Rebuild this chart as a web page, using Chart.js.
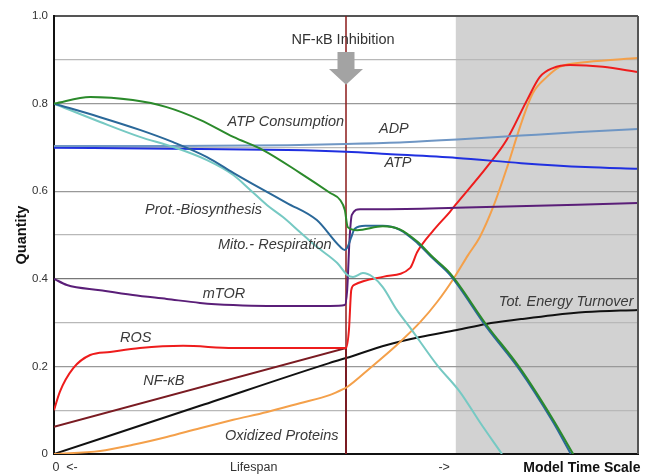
<!DOCTYPE html>
<html>
<head>
<meta charset="utf-8">
<script src="https://cdn.jsdelivr.net/npm/chart.js@4"></script>
<style>
html, body { margin: 0; padding: 0; background: #fff; }
</style>
</head>
<body>
<canvas id="myChart" width="651" height="475"></canvas>
<script>
// time axis runs 0..100 (model time), quantities 0..1
var inhibitionAt = 50;
var agingStart = 68.8;

var consX = [0, 6.2, 13.5, 19.3, 25, 30.7, 35.8, 42.1, 47.3, 49, 49.8, 50.3, 51.9, 56.3, 59.2, 62.2, 64.9, 67.8, 74.1, 79.8, 85.4, 88.9];
var consY = [0.8, 0.815, 0.808, 0.792, 0.763, 0.724, 0.694, 0.642, 0.596, 0.58, 0.557, 0.518, 0.511, 0.52, 0.513, 0.485, 0.449, 0.413, 0.294, 0.196, 0.08, 0];

var mitoX = [0, 7.9, 14.7, 20.4, 26.2, 30.7, 35.3, 39.9, 45, 49, 49.8, 50.3, 50.9, 51.5, 53.3, 56.3, 59.2, 62.2, 64.9, 67.8, 74.1, 79.8, 85.4, 88.5];
var mitoY = [0.8, 0.769, 0.74, 0.712, 0.678, 0.642, 0.607, 0.573, 0.534, 0.473, 0.466, 0.473, 0.495, 0.514, 0.521, 0.521, 0.512, 0.482, 0.446, 0.409, 0.289, 0.191, 0.074, 0];

var protX = [0, 7.9, 14.7, 20.4, 26.2, 30.7, 33.6, 36.5, 39.2, 42.1, 45, 48.5, 50.2, 51.2, 52.9, 54.6, 56.3, 58.7, 61, 65.6, 69.5, 72.9, 76.7];
var protY = [0.8, 0.758, 0.724, 0.701, 0.671, 0.637, 0.603, 0.568, 0.541, 0.507, 0.473, 0.436, 0.409, 0.404, 0.413, 0.404, 0.381, 0.329, 0.288, 0.203, 0.142, 0.073, 0];

var adpX = [0, 20, 40, 50, 60, 69, 80, 90, 100];
var adpY = [0.703, 0.703, 0.705, 0.708, 0.712, 0.718, 0.727, 0.735, 0.742];

var atpX = [0, 20, 40, 50, 57, 69, 80, 91, 100];
var atpY = [0.699, 0.697, 0.694, 0.69, 0.685, 0.676, 0.664, 0.655, 0.651];

var mtorX = [0, 2.2, 7.9, 13.5, 19.3, 25, 30.7, 36.5, 47.3, 49.8, 50.2, 50.6, 51, 52.4, 56.3, 68.8, 100];
var mtorY = [0.4, 0.386, 0.374, 0.363, 0.354, 0.345, 0.34, 0.338, 0.338, 0.34, 0.374, 0.489, 0.546, 0.559, 0.559, 0.562, 0.573];

var rosX = [0, 1, 3.3, 6.2, 9.6, 14.7, 22.1, 30.7, 47.3, 50, 50.5, 50.9, 51.4, 56.5, 61, 62.2, 65, 67.8, 68.7, 74.1, 77.5, 81, 83.2, 85.4, 88.4, 94, 100];
var rosY = [0.1, 0.142, 0.196, 0.226, 0.233, 0.242, 0.247, 0.242, 0.242, 0.242, 0.283, 0.374, 0.386, 0.405, 0.425, 0.461, 0.511, 0.553, 0.568, 0.655, 0.717, 0.808, 0.861, 0.881, 0.888, 0.884, 0.872];

var oxX = [0, 7.9, 13.5, 19.3, 25, 30.7, 36.5, 42.1, 47.3, 49.5, 50.2, 54.1, 58.7, 62.7, 65.6, 68.5, 70.9, 72.9, 75.2, 77.6, 79.8, 82, 84.4, 86.6, 91.3, 100];
var oxY = [0, 0.007, 0.021, 0.039, 0.059, 0.078, 0.096, 0.116, 0.135, 0.148, 0.153, 0.196, 0.249, 0.301, 0.347, 0.402, 0.454, 0.495, 0.564, 0.655, 0.747, 0.824, 0.861, 0.884, 0.895, 0.904];

var nfkbX = [0, 50, 50];
var nfkbY = [0.062, 0.242, 0];

var energyX = [0, 25, 47, 50, 57, 62.7, 69, 74, 80, 85.4, 91, 100];
var energyY = [0, 0.11, 0.207, 0.219, 0.249, 0.267, 0.283, 0.297, 0.308, 0.317, 0.324, 0.329];

var xTickPos = [1.9, 34.2, 66.8, 90.4];
var xTickLabels = ["0  <-", "Lifespan", "->", "Model Time Scale"];

var curveLabels = ["ATP Consumption", "ADP", "ATP", "Prot.-Biosynthesis", "Mito.- Respiration", "mTOR", "ROS", "NF-\u03baB", "Oxidized Proteins", "Tot. Energy Turnover"];
var labelX = [39.7, 58.2, 58.9, 25.6, 37.8, 29.1, 14.0, 18.8, 39.0, 87.7];
var labelY = [0.758, 0.742, 0.664, 0.557, 0.477, 0.365, 0.265, 0.167, 0.041, 0.347];

function pts(xs, ys) {
    return xs.map(function (v, i) { return {x: v, y: ys[i]}; });
}

function line(label, xs, ys, color, smooth) {
    return {
        label: label,
        data: pts(xs, ys),
        borderColor: color,
        borderWidth: 2,
        pointRadius: 0,
        fill: false,
        tension: 0,
        cubicInterpolationMode: smooth === false ? 'default' : 'monotone'
    };
}

Chart.defaults.font.family = "'Liberation Sans', Arial, sans-serif";
Chart.defaults.color = '#333';

var extras = {
    id: 'extras',
    beforeDraw: function (chart) {
        var ctx = chart.ctx, a = chart.chartArea, x = chart.scales.x;
        var x0 = x.getPixelForValue(agingStart);
        ctx.save();
        ctx.fillStyle = '#d2d2d2';
        ctx.fillRect(x0, a.top, a.right - x0, a.bottom - a.top);
        ctx.restore();
    },
    afterDatasetsDraw: function (chart) {
        var ctx = chart.ctx, x = chart.scales.x, y = chart.scales.y;
        ctx.save();
        // arrow
        var cx = x.getPixelForValue(inhibitionAt);
        var t = y.getPixelForValue(0.918), h = y.getPixelForValue(0.879), tip = y.getPixelForValue(0.843);
        ctx.fillStyle = '#a3a3a3';
        ctx.beginPath();
        ctx.moveTo(cx - 8.5, t);
        ctx.lineTo(cx + 8.5, t);
        ctx.lineTo(cx + 8.5, h);
        ctx.lineTo(cx + 17, h);
        ctx.lineTo(cx, tip);
        ctx.lineTo(cx - 17, h);
        ctx.lineTo(cx - 8.5, h);
        ctx.closePath();
        ctx.fill();

        ctx.textAlign = 'center';
        ctx.textBaseline = 'middle';
        ctx.fillStyle = '#333';
        ctx.font = "14.5px 'Liberation Sans', Arial, sans-serif";
        ctx.fillText("NF-\u03baB Inhibition", x.getPixelForValue(49.5), y.getPixelForValue(0.945));

        ctx.font = "italic 14.5px 'Liberation Sans', Arial, sans-serif";
        ctx.fillStyle = '#3a3a3a';
        curveLabels.forEach(function (s, i) {
            ctx.fillText(s, x.getPixelForValue(labelX[i]), y.getPixelForValue(labelY[i]));
        });
        ctx.restore();
    },
    afterDraw: function (chart) {
        var ctx = chart.ctx, a = chart.chartArea;
        ctx.save();
        ctx.strokeStyle = '#555';
        ctx.lineWidth = 2;
        ctx.beginPath();
        ctx.moveTo(a.right, a.top);
        ctx.lineTo(a.right, a.bottom);
        ctx.stroke();
        ctx.restore();
    }
};

new Chart("myChart", {
    type: "line",
    data: {
        datasets: [
            line("ATP Consumption", consX, consY, "#2b8a2b"),
            line("Mito.- Respiration", mitoX, mitoY, "#2a6899"),
            line("Prot.-Biosynthesis", protX, protY, "#76c9c3"),
            line("ADP", adpX, adpY, "#6f96c4"),
            line("ATP", atpX, atpY, "#2030e0"),
            line("mTOR", mtorX, mtorY, "#5a1e78"),
            line("ROS", rosX, rosY, "#ee1c1c"),
            line("Oxidized Proteins", oxX, oxY, "#f4a04a"),
            line("NF-\u03baB", nfkbX, nfkbY, "#7a1b22", false),
            line("Tot. Energy Turnover", energyX, energyY, "#111111"),
            {
                label: "inhibition",
                data: [{x: inhibitionAt, y: 0}, {x: inhibitionAt, y: 1}],
                borderColor: "#8b1a1a",
                borderWidth: 1.5,
                pointRadius: 0,
                tension: 0
            }
        ]
    },
    options: {
        responsive: false,
        animation: false,
        layout: {padding: {left: 0, top: 16, right: 13, bottom: 0}},
        plugins: {legend: {display: false}, tooltip: {enabled: false}},
        scales: {
            x: {
                type: "linear",
                min: 0,
                max: 100,
                grid: {display: false},
                border: {color: "#111", width: 2},
                afterFit: function (s) { s.height = 21; },
                afterBuildTicks: function (s) {
                    s.ticks = xTickPos.map(function (v) { return {value: v}; });
                },
                ticks: {
                    autoSkip: false,
                    maxRotation: 0,
                    padding: -2,
                    callback: function (v, i) { return xTickLabels[i]; },
                    color: function (c) { return c.index === 3 ? '#111' : '#333'; },
                    font: function (c) {
                        return c.index === 3 ? {size: 14, weight: 'bold'} : {size: 12.5};
                    }
                }
            },
            y: {
                min: 0,
                max: 1,
                afterFit: function (s) { s.width = 54; },
                border: {color: "#111", width: 2},
                grid: {
                    drawTicks: false,
                    color: function (c) {
                        var v = Math.round(c.tick.value * 10);
                        if (v === 10) return '#555';
                        if (v === 4) return '#777';
                        return v % 2 === 0 ? '#999' : '#b8b8b8';
                    },
                    lineWidth: function (c) {
                        return Math.round(c.tick.value * 10) === 10 ? 2 : 1.2;
                    }
                },
                ticks: {
                    stepSize: 0.1,
                    padding: 6,
                    font: {size: 11.5},
                    callback: function (v) {
                        var k = Math.round(v * 10);
                        if (k % 2 !== 0) return '';
                        return k === 0 ? '0' : v.toFixed(1);
                    }
                },
                title: {
                    display: true,
                    text: "Quantity",
                    color: '#111',
                    font: {size: 14.5, weight: 'bold'},
                    padding: {top: 13, bottom: 0}
                }
            }
        }
    },
    plugins: [extras]
});
</script>
</body>
</html>
